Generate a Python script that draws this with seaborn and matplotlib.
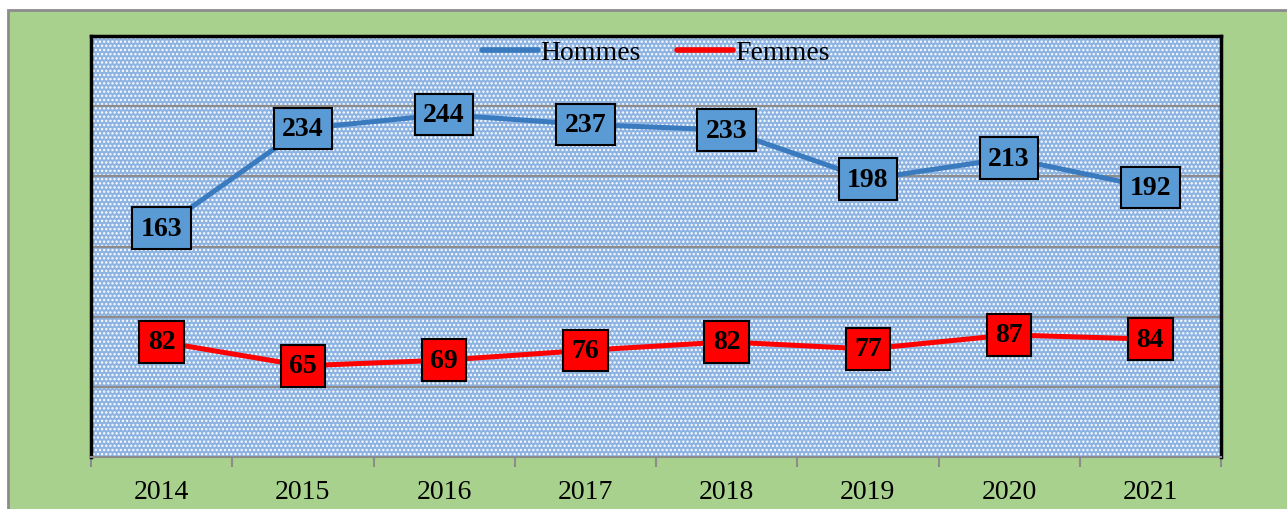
import matplotlib
matplotlib.use("Agg")
import matplotlib.pyplot as plt
import seaborn as sns
import pandas as pd
from matplotlib.patches import Rectangle

years = ["2014", "2015", "2016", "2017", "2018", "2019", "2020", "2021"]
hommes = [163, 234, 244, 237, 233, 198, 213, 192]
femmes = [82, 65, 69, 76, 82, 77, 87, 84]

df = pd.DataFrame({
    "year": years * 2,
    "value": hommes + femmes,
    "serie": ["Hommes"] * len(years) + ["Femmes"] * len(years),
})

sns.set_style("white")
plt.rcParams["font.family"] = ["Liberation Serif", "DejaVu Serif"]
plt.rcParams["hatch.linewidth"] = 1.1
plt.rcParams["text.color"] = "black"

fig = plt.figure(figsize=(12.87, 5.10), dpi=100)
fig.patch.set_facecolor("white")

# green outer frame
fig.patches.append(Rectangle((8 / 1287, -0.05), 1.0, 1 - 11 / 510 + 0.05,
                             transform=fig.transFigure, facecolor="#a9d18e",
                             edgecolor="#8c8c8c", linewidth=2, zorder=-10))

ax = fig.add_axes([91 / 1287, 52 / 510, 1130 / 1287, 421 / 510])
ax.set_facecolor("#8db3e2")
# checker-like dotted fill
ax.add_patch(Rectangle((0, 0), 1, 1, transform=ax.transAxes, facecolor="none",
                       edgecolor="white", hatch="....", linewidth=0, zorder=0))

colors = {"Hommes": "#3a7bbf", "Femmes": "#ff0000"}
sns.lineplot(data=df, x="year", y="value", hue="serie", palette=colors,
             linewidth=3.6, ax=ax, legend=True, zorder=3)

box_colors = {"Hommes": "#5b9bd5", "Femmes": "#ff0000"}
for serie, vals in [("Hommes", hommes), ("Femmes", femmes)]:
    for i, v in enumerate(vals):
        ax.text(i, v, str(v), ha="center", va="center", fontsize=20,
                fontweight="bold", color="black", zorder=5,
                bbox=dict(boxstyle="square,pad=0.3", facecolor=box_colors[serie],
                          edgecolor="black", linewidth=1.5))

ax.set_ylim(0, 300)
ax.set_xlim(-0.5, len(years) - 0.5)
ax.set_yticks([50, 100, 150, 200, 250])
ax.set_yticklabels([])
ax.yaxis.grid(True, color="#8c8c8c", linewidth=1.6, zorder=1)
ax.tick_params(axis="y", length=0)

ax.set_xticks([i - 0.5 for i in range(len(years) + 1)])
ax.set_xticklabels([])
ax.set_xticks(range(len(years)), minor=True)
ax.set_xticklabels(years, minor=True, fontsize=20, color="black")
ax.tick_params(axis="x", which="major", length=7, width=1.5, color="#8c8c8c",
               direction="out", bottom=True)
ax.tick_params(axis="x", which="minor", length=0, pad=16, labelcolor="black")
ax.set_xlabel("")
ax.set_ylabel("")

for s in ["left", "top", "right"]:
    ax.spines[s].set_color("black")
    ax.spines[s].set_linewidth(2.5)
ax.spines["bottom"].set_color("#8c8c8c")
ax.spines["bottom"].set_linewidth(1.5)

leg = ax.legend(loc="upper center", ncol=2, frameon=False, fontsize=20,
                bbox_to_anchor=(0.5, 1.05), handlelength=2.0, handletextpad=0.1,
                columnspacing=1.3)
for line in leg.get_lines():
    line.set_linewidth(4)
for t in leg.get_texts():
    t.set_color("black")

fig.savefig("out.png", dpi=100)
